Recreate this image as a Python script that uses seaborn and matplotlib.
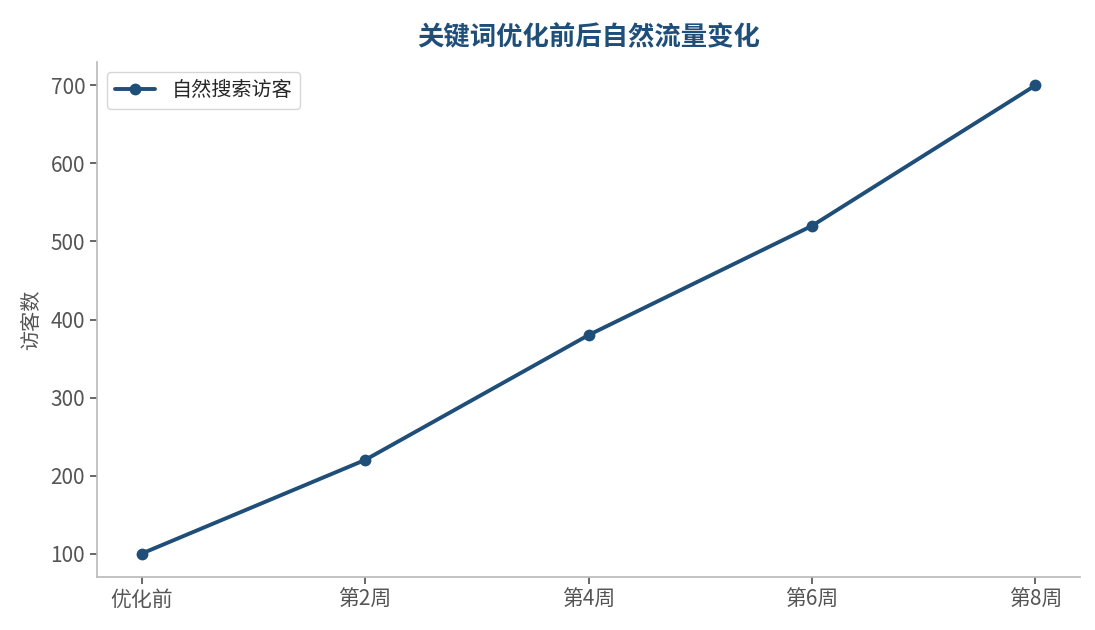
import matplotlib
matplotlib.use("Agg")
import matplotlib.pyplot as plt
import seaborn as sns
import pandas as pd

categories = ["优化前", "第2周", "第4周", "第6周", "第8周"]
visitors = [100, 220, 380, 520, 700]
series_name = "自然搜索访客"
title = "关键词优化前后自然流量变化"
ylabel = "访客数"

sns.set_theme(style="ticks")
plt.rcParams['font.family'] = ['Noto Sans CJK SC', 'DejaVu Sans']

color = "#1f4e79"
df = pd.DataFrame({"x": categories, "y": visitors})

fig = plt.figure(figsize=(10.95, 6.3), dpi=100)
ax = fig.add_axes([97/1095, 1 - 577/630, (1080-97)/1095, (577-62)/630])
sns.lineplot(data=df, x="x", y="y", ax=ax, color=color, linewidth=2.8,
             marker="o", markersize=8.5, markeredgewidth=0, label=series_name, sort=False)

ax.set_xlim(-0.2, 4.2)
ax.set_ylim(70, 730)
ax.set_yticks([100, 200, 300, 400, 500, 600, 700])
ax.set_xlabel("")
ax.set_ylabel(ylabel, fontsize=14.5, color="#555555", labelpad=6)
ax.set_title(title, fontsize=19, fontweight="bold", color=color, pad=12)
for s in ["top", "right"]:
    ax.spines[s].set_visible(False)
for s in ["left", "bottom"]:
    ax.spines[s].set_color("#bbbbbb")
ax.tick_params(colors="#555555", labelsize=15, length=5)
leg = ax.legend(loc="upper left", fontsize=14.5, frameon=True, markerscale=1.0,
                handlelength=2.0, borderpad=0.4)
leg.get_frame().set_edgecolor("#cccccc")

fig.savefig("out.png", dpi=100)
